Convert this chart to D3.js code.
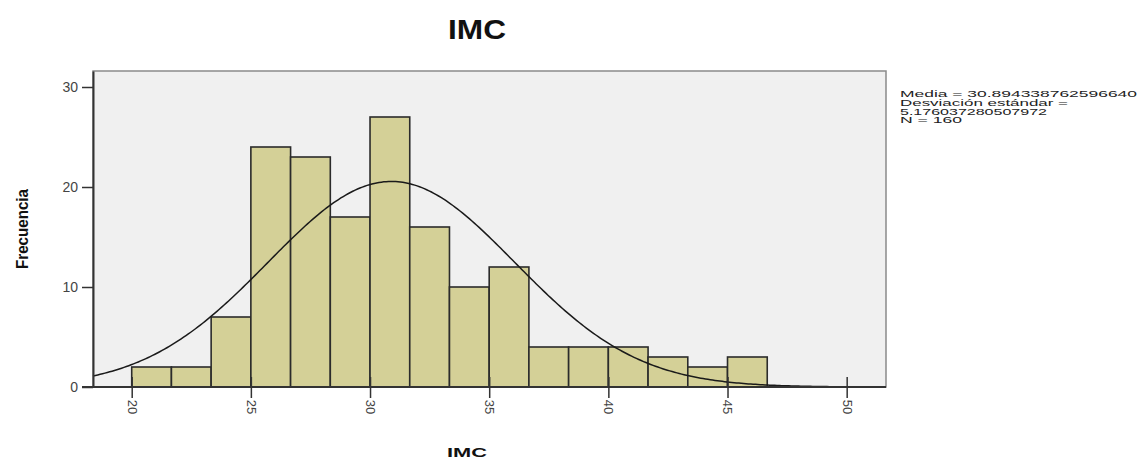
<!DOCTYPE html>
<meta charset="utf-8">
<head>
<style>
  body { margin: 0; background: #fff; }
  .axis text { font: 12px "Liberation Sans", Arial, sans-serif; fill: #444; }
  .axis path, .axis line { fill: none; stroke: #333; }
</style>
</head>
<body>
<script src="https://d3js.org/d3.v7.min.js"></script>
<script>
// histogram counts (bins of width 5/3 starting at 20)
var counts = [2, 2, 7, 24, 23, 17, 27, 16, 10, 12, 4, 4, 4, 3, 2, 3];
var binStart = 20;
var binWidth = 5 / 3;
var xTicks = [20, 25, 30, 35, 40, 45, 50];
var yTicks = [0, 10, 20, 30];
var stats = ["Media = 30.894338762596640", "Desviación estándar =", "5.176037280507972", "N = 160"];
var mean = 30.894338762596640, sd = 5.176037280507972, n = 160;

var W = 1141, H = 461;
var mLeft = 93, mRight = 886, mTop = 71, mBottom = 387;

var svg = d3.select("body").append("svg").attr("width", W).attr("height", H);

var x = d3.scaleLinear().domain([18.376, 51.65]).range([mLeft, mRight]);
var y = d3.scaleLinear().domain([0, 31.6]).range([mBottom, mTop]);

// plot background
svg.append("rect").attr("x", mLeft).attr("y", mTop).attr("width", mRight - mLeft).attr("height", mBottom - mTop)
  .attr("fill", "#f0f0f0").attr("stroke", "#8a8a8a").attr("stroke-width", 1.5);

var bins = counts.map(function(c, i) {
  return { x0: binStart + i * binWidth, x1: binStart + (i + 1) * binWidth, n: c };
});

svg.selectAll("rect.bar").data(bins).enter().append("rect")
  .attr("class", "bar")
  .attr("x", function(d) { return x(d.x0); })
  .attr("y", function(d) { return y(d.n); })
  .attr("width", function(d) { return x(d.x1) - x(d.x0); })
  .attr("height", function(d) { return y(0) - y(d.n); })
  .attr("fill", "#d4d097")
  .attr("stroke", "#2b2b2b")
  .attr("stroke-width", 1.6);

// normal curve
var scaleN = n * binWidth / (sd * Math.sqrt(2 * Math.PI));
var xs = d3.range(18.376, 51.65, 0.1).concat([51.65]);
var line = d3.line()
  .x(function(d) { return x(d); })
  .y(function(d) { return y(scaleN * Math.exp(-0.5 * Math.pow((d - mean) / sd, 2))); });
svg.append("path").datum(xs).attr("d", line)
  .attr("fill", "none").attr("stroke", "#1a1a1a").attr("stroke-width", 1.5);

// axes
var yAxis = d3.axisLeft(y).tickValues(yTicks).tickSize(11).tickSizeOuter(0).tickPadding(4);
var gy = svg.append("g").attr("class", "axis").attr("transform", "translate(" + mLeft + ",0)").call(yAxis);
gy.select(".domain").attr("stroke-width", 2).attr("stroke", "#444");
gy.selectAll("line").attr("stroke-width", 1.5).attr("stroke", "#555");
gy.selectAll("text").style("font-size", "14px");

var xAxis = d3.axisBottom(x).tickValues(xTicks).tickSize(11).tickSizeOuter(0);
var gx = svg.append("g").attr("class", "axis").attr("transform", "translate(0," + mBottom + ")").call(xAxis);
gx.select(".domain").attr("d", "M" + (mLeft - 11) + ",0H" + mRight).attr("stroke-width", 2).attr("stroke", "#444");
gx.selectAll("line").attr("stroke-width", 1.5).attr("stroke", "#333").attr("y1", -10);
gx.selectAll("text").style("font-size", "13px")
  .attr("transform", "translate(0,20) rotate(90)")
  .attr("y", 0).attr("dy", "0.35em").attr("text-anchor", "middle");

// titles
svg.append("text").attr("x", 477).attr("y", 39).attr("text-anchor", "middle")
  .style("font", "bold 27px 'Liberation Sans Narrow', 'Liberation Sans', Arial, sans-serif")
  .attr("textLength", 58).attr("lengthAdjust", "spacingAndGlyphs")
  .attr("fill", "#111").text("IMC");

svg.append("text").attr("transform", "translate(28,229) rotate(-90)").attr("text-anchor", "middle")
  .style("font", "bold 17px 'Liberation Sans Narrow', 'Liberation Sans', Arial, sans-serif")
  .attr("textLength", 80).attr("lengthAdjust", "spacingAndGlyphs")
  .attr("fill", "#111").text("Frecuencia");

svg.append("text").attr("x", 467).attr("y", 457).attr("text-anchor", "middle")
  .style("font", "bold 13px 'Liberation Sans', Arial, sans-serif")
  .attr("textLength", 40).attr("lengthAdjust", "spacingAndGlyphs")
  .attr("fill", "#111").text("IMC");

// stats text
var widths = [237, 168, 147, 62];
svg.selectAll("text.stat").data(stats).enter().append("text")
  .attr("class", "stat")
  .attr("x", 900)
  .attr("y", function(d, i) { return 97 + i * 8.8; })
  .attr("textLength", function(d, i) { return widths[i]; })
  .attr("lengthAdjust", "spacingAndGlyphs")
  .style("font", "9.5px 'Liberation Sans', Arial, sans-serif")
  .attr("fill", "#222")
  .text(function(d) { return d; });
</script>
</body>
